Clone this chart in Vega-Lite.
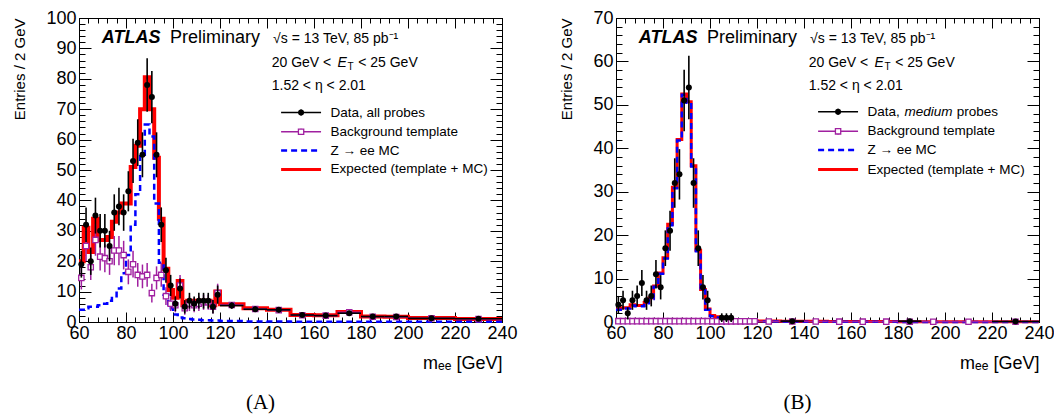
{
"$schema": "https://vega.github.io/schema/vega-lite/v6.json",
"padding": {"left": 12, "top": 8, "right": 5, "bottom": 5},
"spacing": 41,
"background": "white",
"config": {
  "font": "Liberation Sans",
  "view": {"stroke": "black", "strokeWidth": 1},
  "axis": {"domain": false, "grid": false, "tickColor": "black", "tickWidth": 1, "labelFont": "Liberation Sans", "labelFontSize": 18, "labelColor": "black", "labelFlush": false, "labelOverlap": false, "titleFont": "Liberation Sans", "titleFontWeight": "normal", "titleColor": "black"}
},
"datasets": {
  "histA": [
    {"e":60,"exp":20,"mc":4},{"e":62,"exp":31,"mc":4.5},{"e":64,"exp":23,"mc":5},{"e":66,"exp":34,"mc":5},{"e":68,"exp":27,"mc":5.5},
    {"e":70,"exp":27,"mc":6},{"e":72,"exp":28,"mc":7},{"e":74,"exp":33,"mc":8.5},{"e":76,"exp":36,"mc":11},{"e":78,"exp":39,"mc":16},
    {"e":80,"exp":39,"mc":22},{"e":82,"exp":51,"mc":32},{"e":84,"exp":58,"mc":42},{"e":86,"exp":70,"mc":55},{"e":88,"exp":80.5,"mc":65},
    {"e":90,"exp":70,"mc":61},{"e":92,"exp":54,"mc":39},{"e":94,"exp":34,"mc":19.5},{"e":96,"exp":17.5,"mc":9},{"e":98,"exp":10.5,"mc":4.5},
    {"e":100,"exp":8,"mc":2.5},{"e":102,"exp":13.5,"mc":1.5},{"e":104,"exp":5.5,"mc":1.2},{"e":106,"exp":7,"mc":1},{"e":108,"exp":6.5,"mc":0.8},
    {"e":110,"exp":7,"mc":0.7},{"e":112,"exp":7,"mc":0.6},{"e":114,"exp":7,"mc":0.6},{"e":116,"exp":5.5,"mc":0.5},{"e":118,"exp":10,"mc":0.5},
    {"e":120,"exp":5.8,"mc":0.3},{"e":130,"exp":4.5,"mc":0.2},{"e":140,"exp":4,"mc":0.15},{"e":150,"exp":2.3,"mc":0.1},{"e":160,"exp":2.2,"mc":0.1},
    {"e":170,"exp":3.3,"mc":0.1},{"e":180,"exp":1.8,"mc":0.05},{"e":190,"exp":1.7,"mc":0.05},{"e":200,"exp":1.3,"mc":0.05},{"e":220,"exp":1.0,"mc":0.05},
    {"e":240,"exp":1.0,"mc":0.05}
  ],
  "dataA": [
    {"m":61,"lo":60,"hi":62,"v":19,"yl":14.6,"yh":23.4},{"m":63,"lo":62,"hi":64,"v":32,"yl":26.3,"yh":37.7},
    {"m":65,"lo":64,"hi":66,"v":20,"yl":15.5,"yh":24.5},{"m":67,"lo":66,"hi":68,"v":35,"yl":29.1,"yh":40.9},
    {"m":69,"lo":68,"hi":70,"v":30,"yl":24.5,"yh":35.5},{"m":71,"lo":70,"hi":72,"v":30,"yl":24.5,"yh":35.5},
    {"m":73,"lo":72,"hi":74,"v":25,"yl":20,"yh":30},{"m":75,"lo":74,"hi":76,"v":36,"yl":30,"yh":42},
    {"m":77,"lo":76,"hi":78,"v":38,"yl":31.8,"yh":44.2},{"m":79,"lo":78,"hi":80,"v":36,"yl":30,"yh":42},
    {"m":81,"lo":80,"hi":82,"v":43,"yl":36.4,"yh":49.6},{"m":83,"lo":82,"hi":84,"v":53,"yl":45.7,"yh":60.3},
    {"m":85,"lo":84,"hi":86,"v":59,"yl":51.3,"yh":66.7},{"m":87,"lo":86,"hi":88,"v":55,"yl":47.6,"yh":62.4},
    {"m":89,"lo":88,"hi":90,"v":78,"yl":69.2,"yh":86.8},{"m":91,"lo":90,"hi":92,"v":74,"yl":65.4,"yh":82.6},
    {"m":93,"lo":92,"hi":94,"v":55,"yl":47.6,"yh":62.4},{"m":95,"lo":94,"hi":96,"v":32,"yl":26.3,"yh":37.7},
    {"m":97,"lo":96,"hi":98,"v":17,"yl":12.9,"yh":21.1},{"m":99,"lo":98,"hi":100,"v":12,"yl":8.5,"yh":15.5},
    {"m":101,"lo":100,"hi":102,"v":6,"yl":3.6,"yh":8.4},{"m":103,"lo":102,"hi":104,"v":11,"yl":7.7,"yh":14.3},
    {"m":105,"lo":104,"hi":106,"v":5,"yl":2.8,"yh":7.2},{"m":107,"lo":106,"hi":108,"v":7,"yl":4.4,"yh":9.6},
    {"m":109,"lo":108,"hi":110,"v":6,"yl":3.6,"yh":8.4},{"m":111,"lo":110,"hi":112,"v":7,"yl":4.4,"yh":9.6},
    {"m":113,"lo":112,"hi":114,"v":7,"yl":4.4,"yh":9.6},{"m":115,"lo":114,"hi":116,"v":7,"yl":4.4,"yh":9.6},
    {"m":117,"lo":116,"hi":118,"v":5,"yl":2.8,"yh":7.2},{"m":119,"lo":118,"hi":120,"v":9,"yl":6,"yh":12},
    {"m":125,"lo":120,"hi":130,"v":5.4,"yl":4.36,"yh":6.44},{"m":135,"lo":130,"hi":140,"v":4.2,"yl":3.28,"yh":5.12},
    {"m":145,"lo":140,"hi":150,"v":4,"yl":3.11,"yh":4.89},{"m":155,"lo":150,"hi":160,"v":2.3,"yl":1.62,"yh":2.98},
    {"m":165,"lo":160,"hi":170,"v":2.1,"yl":1.45,"yh":2.75},{"m":175,"lo":170,"hi":180,"v":2.9,"yl":2.14,"yh":3.66},
    {"m":185,"lo":180,"hi":190,"v":1.8,"yl":1.2,"yh":2.4},{"m":195,"lo":190,"hi":200,"v":1.8,"yl":1.2,"yh":2.4},
    {"m":210,"lo":200,"hi":220,"v":1.2,"yl":0.85,"yh":1.55},{"m":230,"lo":220,"hi":240,"v":1.05,"yl":0.73,"yh":1.37}
  ],
  "bkgA": [
    {"m":61,"lo":60,"hi":62,"v":14.5,"yl":10.7,"yh":18.3},{"m":63,"lo":62,"hi":64,"v":25,"yl":20,"yh":30},
    {"m":65,"lo":64,"hi":66,"v":18,"yl":13.8,"yh":22.2},{"m":67,"lo":66,"hi":68,"v":27,"yl":21.8,"yh":32.2},
    {"m":69,"lo":68,"hi":70,"v":21.5,"yl":16.9,"yh":26.1},{"m":71,"lo":70,"hi":72,"v":21,"yl":16.4,"yh":25.6},
    {"m":73,"lo":72,"hi":74,"v":20,"yl":15.5,"yh":24.5},{"m":75,"lo":74,"hi":76,"v":23.5,"yl":18.7,"yh":28.3},
    {"m":77,"lo":76,"hi":78,"v":23.5,"yl":18.7,"yh":28.3},{"m":79,"lo":78,"hi":80,"v":22,"yl":17.3,"yh":26.7},
    {"m":81,"lo":80,"hi":82,"v":16.5,"yl":12.4,"yh":20.6},{"m":83,"lo":82,"hi":84,"v":19,"yl":14.6,"yh":23.4},
    {"m":85,"lo":84,"hi":86,"v":15.5,"yl":11.6,"yh":19.4},{"m":87,"lo":86,"hi":88,"v":15,"yl":11.1,"yh":18.9},
    {"m":89,"lo":88,"hi":90,"v":15.5,"yl":11.6,"yh":19.4},{"m":91,"lo":90,"hi":92,"v":9.5,"yl":6.4,"yh":12.6},
    {"m":93,"lo":92,"hi":94,"v":14.5,"yl":10.7,"yh":18.3},{"m":95,"lo":94,"hi":96,"v":15.5,"yl":11.6,"yh":19.4},
    {"m":97,"lo":96,"hi":98,"v":8.5,"yl":5.6,"yh":11.4},{"m":99,"lo":98,"hi":100,"v":6,"yl":3.6,"yh":8.4},
    {"m":101,"lo":100,"hi":102,"v":5.5,"yl":3.2,"yh":7.8},{"m":103,"lo":102,"hi":104,"v":12,"yl":8.5,"yh":15.5},
    {"m":105,"lo":104,"hi":106,"v":4.5,"yl":2.4,"yh":6.6},{"m":107,"lo":106,"hi":108,"v":6,"yl":3.6,"yh":8.4},
    {"m":109,"lo":108,"hi":110,"v":5.5,"yl":3.2,"yh":7.8},{"m":111,"lo":110,"hi":112,"v":6,"yl":3.6,"yh":8.4},
    {"m":113,"lo":112,"hi":114,"v":6.5,"yl":4,"yh":9},{"m":115,"lo":114,"hi":116,"v":6.5,"yl":4,"yh":9},
    {"m":117,"lo":116,"hi":118,"v":5,"yl":2.8,"yh":7.2},{"m":119,"lo":118,"hi":120,"v":9.5,"yl":6.4,"yh":12.6},
    {"m":125,"lo":120,"hi":130,"v":5.6,"yl":5.1,"yh":6.1},{"m":135,"lo":130,"hi":140,"v":4.3,"yl":3.85,"yh":4.75},
    {"m":145,"lo":140,"hi":150,"v":3.9,"yl":3.45,"yh":4.35},{"m":155,"lo":150,"hi":160,"v":2.2,"yl":1.85,"yh":2.55},
    {"m":165,"lo":160,"hi":170,"v":2.1,"yl":1.75,"yh":2.45},{"m":175,"lo":170,"hi":180,"v":3.2,"yl":2.8,"yh":3.6},
    {"m":185,"lo":180,"hi":190,"v":1.75,"yl":1.45,"yh":2.05},{"m":195,"lo":190,"hi":200,"v":1.65,"yl":1.35,"yh":1.95},
    {"m":210,"lo":200,"hi":220,"v":1.25,"yl":1.05,"yh":1.45},{"m":230,"lo":220,"hi":240,"v":0.95,"yl":0.75,"yh":1.15}
  ],
  "histB": [
    {"e":60,"exp":3,"mc":2.8},{"e":62,"exp":3.3,"mc":3.1},{"e":64,"exp":3.3,"mc":3.1},{"e":66,"exp":4,"mc":3.8},{"e":68,"exp":3.8,"mc":3.6},
    {"e":70,"exp":3.8,"mc":3.6},{"e":72,"exp":4.5,"mc":4.3},{"e":74,"exp":5.5,"mc":5.3},{"e":76,"exp":8.3,"mc":8.1},{"e":78,"exp":11.3,"mc":11.1},
    {"e":80,"exp":14.8,"mc":14.6},{"e":82,"exp":22.5,"mc":22.3},{"e":84,"exp":31,"mc":30.8},{"e":86,"exp":42,"mc":41.8},{"e":88,"exp":52.5,"mc":52.3},
    {"e":90,"exp":50.7,"mc":50.5},{"e":92,"exp":36,"mc":35.8},{"e":94,"exp":16.5,"mc":16.3},{"e":96,"exp":7.5,"mc":7.3},{"e":98,"exp":3,"mc":2.8},
    {"e":100,"exp":1.5,"mc":1.3},{"e":102,"exp":1.2,"mc":1.05},{"e":104,"exp":1,"mc":0.85},{"e":106,"exp":0.8,"mc":0.65},{"e":108,"exp":0.6,"mc":0.45},
    {"e":110,"exp":0.5,"mc":0.35},{"e":112,"exp":0.45,"mc":0.3},{"e":114,"exp":0.4,"mc":0.25},{"e":116,"exp":0.35,"mc":0.2},{"e":118,"exp":0.3,"mc":0.18},
    {"e":120,"exp":0.25,"mc":0.12},{"e":130,"exp":0.2,"mc":0.08},{"e":140,"exp":0.15,"mc":0.05},{"e":150,"exp":0.12,"mc":0.04},{"e":160,"exp":0.1,"mc":0.03},
    {"e":170,"exp":0.1,"mc":0.03},{"e":180,"exp":0.08,"mc":0.02},{"e":190,"exp":0.07,"mc":0.02},{"e":200,"exp":0.06,"mc":0.02},{"e":220,"exp":0.05,"mc":0.02},
    {"e":240,"exp":0.05,"mc":0.02}
  ],
  "dataB": [
    {"m":61,"lo":60,"hi":62,"v":4,"yl":2,"yh":6},{"m":63,"lo":62,"hi":64,"v":5,"yl":2.8,"yh":7.2},
    {"m":65,"lo":64,"hi":66,"v":2,"yl":0.6,"yh":3.4},{"m":67,"lo":66,"hi":68,"v":5,"yl":2.8,"yh":7.2},
    {"m":69,"lo":68,"hi":70,"v":6,"yl":3.6,"yh":8.4},{"m":71,"lo":70,"hi":72,"v":9,"yl":6,"yh":12},
    {"m":73,"lo":72,"hi":74,"v":5,"yl":2.8,"yh":7.2},{"m":75,"lo":74,"hi":76,"v":6,"yl":3.6,"yh":8.4},
    {"m":77,"lo":76,"hi":78,"v":11,"yl":7.7,"yh":14.3},{"m":79,"lo":78,"hi":80,"v":8,"yl":5.2,"yh":10.8},
    {"m":81,"lo":80,"hi":82,"v":17,"yl":12.9,"yh":21.1},{"m":83,"lo":82,"hi":84,"v":21,"yl":16.4,"yh":25.6},
    {"m":85,"lo":84,"hi":86,"v":32,"yl":26.3,"yh":37.7},{"m":87,"lo":86,"hi":88,"v":34,"yl":28.2,"yh":39.8},
    {"m":89,"lo":88,"hi":90,"v":51,"yl":43.9,"yh":58.1},{"m":91,"lo":90,"hi":92,"v":54,"yl":46.7,"yh":61.3},
    {"m":93,"lo":92,"hi":94,"v":32,"yl":26.3,"yh":37.7},{"m":95,"lo":94,"hi":96,"v":17,"yl":12.9,"yh":21.1},
    {"m":97,"lo":96,"hi":98,"v":8,"yl":5.2,"yh":10.8},{"m":99,"lo":98,"hi":100,"v":5,"yl":2.8,"yh":7.2},
    {"m":105,"lo":104,"hi":106,"v":1,"yl":0,"yh":2},{"m":107,"lo":106,"hi":108,"v":1,"yl":0,"yh":2},
    {"m":109,"lo":108,"hi":110,"v":1,"yl":0,"yh":2},{"m":135,"lo":130,"hi":140,"v":0.2,"yl":0,"yh":0.4},
    {"m":185,"lo":180,"hi":190,"v":0.2,"yl":0,"yh":0.4},{"m":230,"lo":220,"hi":240,"v":0.1,"yl":0,"yh":0.2}
  ],
  "bkgB": [
    {"m":61,"lo":60,"hi":62,"v":0.2,"yl":0.05,"yh":0.35},{"m":63,"lo":62,"hi":64,"v":0.2,"yl":0.05,"yh":0.35},
    {"m":65,"lo":64,"hi":66,"v":0.2,"yl":0.05,"yh":0.35},{"m":67,"lo":66,"hi":68,"v":0.2,"yl":0.05,"yh":0.35},
    {"m":69,"lo":68,"hi":70,"v":0.2,"yl":0.05,"yh":0.35},{"m":71,"lo":70,"hi":72,"v":0.2,"yl":0.05,"yh":0.35},
    {"m":73,"lo":72,"hi":74,"v":0.2,"yl":0.05,"yh":0.35},{"m":75,"lo":74,"hi":76,"v":0.2,"yl":0.05,"yh":0.35},
    {"m":77,"lo":76,"hi":78,"v":0.2,"yl":0.05,"yh":0.35},{"m":79,"lo":78,"hi":80,"v":0.2,"yl":0.05,"yh":0.35},
    {"m":81,"lo":80,"hi":82,"v":0.2,"yl":0.05,"yh":0.35},{"m":83,"lo":82,"hi":84,"v":0.2,"yl":0.05,"yh":0.35},
    {"m":85,"lo":84,"hi":86,"v":0.2,"yl":0.05,"yh":0.35},{"m":87,"lo":86,"hi":88,"v":0.2,"yl":0.05,"yh":0.35},
    {"m":89,"lo":88,"hi":90,"v":0.2,"yl":0.05,"yh":0.35},{"m":91,"lo":90,"hi":92,"v":0.2,"yl":0.05,"yh":0.35},
    {"m":93,"lo":92,"hi":94,"v":0.2,"yl":0.05,"yh":0.35},{"m":95,"lo":94,"hi":96,"v":0.2,"yl":0.05,"yh":0.35},
    {"m":97,"lo":96,"hi":98,"v":0.2,"yl":0.05,"yh":0.35},{"m":99,"lo":98,"hi":100,"v":0.2,"yl":0.05,"yh":0.35},
    {"m":101,"lo":100,"hi":102,"v":0.15,"yl":0.05,"yh":0.3},{"m":103,"lo":102,"hi":104,"v":0.15,"yl":0.05,"yh":0.3},
    {"m":105,"lo":104,"hi":106,"v":0.15,"yl":0.05,"yh":0.3},{"m":107,"lo":106,"hi":108,"v":0.15,"yl":0.05,"yh":0.3},
    {"m":109,"lo":108,"hi":110,"v":0.15,"yl":0.05,"yh":0.3},{"m":111,"lo":110,"hi":112,"v":0.15,"yl":0.05,"yh":0.3},
    {"m":113,"lo":112,"hi":114,"v":0.15,"yl":0.05,"yh":0.3},{"m":115,"lo":114,"hi":116,"v":0.15,"yl":0.05,"yh":0.3},
    {"m":117,"lo":116,"hi":118,"v":0.15,"yl":0.05,"yh":0.3},{"m":119,"lo":118,"hi":120,"v":0.15,"yl":0.05,"yh":0.3},
    {"m":125,"lo":120,"hi":130,"v":0.12,"yl":0.06,"yh":0.18},{"m":135,"lo":130,"hi":140,"v":0.1,"yl":0.05,"yh":0.15},
    {"m":145,"lo":140,"hi":150,"v":0.1,"yl":0.05,"yh":0.15},{"m":155,"lo":150,"hi":160,"v":0.08,"yl":0.04,"yh":0.12},
    {"m":165,"lo":160,"hi":170,"v":0.08,"yl":0.04,"yh":0.12},{"m":175,"lo":170,"hi":180,"v":0.08,"yl":0.04,"yh":0.12},
    {"m":185,"lo":180,"hi":190,"v":0.06,"yl":0.03,"yh":0.09},{"m":195,"lo":190,"hi":200,"v":0.06,"yl":0.03,"yh":0.09},
    {"m":210,"lo":200,"hi":220,"v":0.05,"yl":0.03,"yh":0.07},{"m":230,"lo":220,"hi":240,"v":0.05,"yl":0.03,"yh":0.07}
  ]
},
"hconcat": [
 {
  "width": 423, "height": 304,
  "title": {"text": "(A)", "orient": "bottom", "anchor": "middle", "font": "Liberation Serif", "fontSize": 21, "fontWeight": "normal", "color": "black", "dx": -30, "offset": 20},
  "resolve": {"axis": {"x": "independent", "y": "independent"}},
  "layer": [
   {"data": {"name": "histA"}, "mark": {"type": "line", "interpolate": "step-after", "color": "#ff0000", "strokeWidth": 4},
    "encoding": {
     "x": {"field": "e", "type": "quantitative", "scale": {"domain": [60, 240], "nice": false, "zero": false},
       "axis": {"orient": "bottom", "values": [60,80,100,120,140,160,180,200,220,240], "tickSize": -10, "labelPadding": 12, "title": "mₑₑ [GeV]", "titleFontSize": 18, "titleAnchor": "end", "titlePadding": 12}},
     "y": {"field": "exp", "type": "quantitative", "scale": {"domain": [0, 100], "nice": false, "zero": false},
       "axis": {"orient": "left", "values": [0,10,20,30,40,50,60,70,80,90,100], "tickSize": -12, "labelPadding": 15, "title": "Entries / 2 GeV", "titleFontSize": 15, "titleAnchor": "end", "titlePadding": 18}}}},
   {"data": {"name": "histA"}, "mark": {"type": "line", "interpolate": "step-after", "color": "#0000ff", "strokeWidth": 2.5, "strokeDash": [6, 4]},
    "encoding": {
     "x": {"field": "e", "type": "quantitative", "axis": {"orient": "top", "values": [60,80,100,120,140,160,180,200,220,240], "tickSize": -10, "labels": false, "title": null}},
     "y": {"field": "mc", "type": "quantitative", "axis": {"orient": "right", "values": [0,10,20,30,40,50,60,70,80,90,100], "tickSize": -12, "labels": false, "title": null}}}},
   {"data": {"name": "bkgA"}, "mark": {"type": "rule", "color": "#a020a0", "strokeWidth": 1.5},
    "encoding": {
     "x": {"field": "lo", "type": "quantitative", "axis": {"orient": "bottom", "values": [60,64,68,72,76,80,84,88,92,96,100,104,108,112,116,120,124,128,132,136,140,144,148,152,156,160,164,168,172,176,180,184,188,192,196,200,204,208,212,216,220,224,228,232,236,240], "tickSize": -5, "labels": false, "title": null}},
     "x2": {"field": "hi"},
     "y": {"field": "v", "type": "quantitative", "axis": {"orient": "left", "values": [0,2,4,6,8,10,12,14,16,18,20,22,24,26,28,30,32,34,36,38,40,42,44,46,48,50,52,54,56,58,60,62,64,66,68,70,72,74,76,78,80,82,84,86,88,90,92,94,96,98,100], "tickSize": -6, "labels": false, "title": null}}}},
   {"data": {"name": "bkgA"}, "mark": {"type": "rule", "color": "#a020a0", "strokeWidth": 1.5},
    "encoding": {
     "x": {"field": "m", "type": "quantitative", "axis": {"orient": "top", "values": [60,64,68,72,76,80,84,88,92,96,100,104,108,112,116,120,124,128,132,136,140,144,148,152,156,160,164,168,172,176,180,184,188,192,196,200,204,208,212,216,220,224,228,232,236,240], "tickSize": -5, "labels": false, "title": null}},
     "y": {"field": "yl", "type": "quantitative", "axis": {"orient": "right", "values": [0,2,4,6,8,10,12,14,16,18,20,22,24,26,28,30,32,34,36,38,40,42,44,46,48,50,52,54,56,58,60,62,64,66,68,70,72,74,76,78,80,82,84,86,88,90,92,94,96,98,100], "tickSize": -6, "labels": false, "title": null}},
     "y2": {"field": "yh"}}},
   {"data": {"name": "bkgA"}, "mark": {"type": "point", "shape": "square", "filled": true, "fill": "white", "stroke": "#a020a0", "strokeWidth": 1.3, "size": 28, "opacity": 1},
    "encoding": {"x": {"field": "m", "type": "quantitative", "axis": null}, "y": {"field": "v", "type": "quantitative", "axis": null}}},
   {"data": {"name": "dataA"}, "mark": {"type": "rule", "color": "black", "strokeWidth": 1.6},
    "encoding": {"x": {"field": "lo", "type": "quantitative", "axis": null}, "x2": {"field": "hi"}, "y": {"field": "v", "type": "quantitative", "axis": null}}},
   {"data": {"name": "dataA"}, "mark": {"type": "rule", "color": "black", "strokeWidth": 1.6},
    "encoding": {"x": {"field": "m", "type": "quantitative", "axis": null}, "y": {"field": "yl", "type": "quantitative", "axis": null}, "y2": {"field": "yh"}}},
   {"data": {"name": "dataA"}, "mark": {"type": "circle", "color": "black", "size": 36, "opacity": 1},
    "encoding": {"x": {"field": "m", "type": "quantitative", "axis": null}, "y": {"field": "v", "type": "quantitative", "axis": null}}},
   {"data": {"values": [{}]}, "mark": {"type": "text", "text": "ATLAS", "fontSize": 18, "fontWeight": "bold", "fontStyle": "italic", "align": "left", "baseline": "middle", "color": "black"},
    "encoding": {"x": {"datum": 69.7, "axis": null}, "y": {"datum": 93.3, "axis": null}}},
   {"data": {"values": [{}]}, "mark": {"type": "text", "text": "Preliminary", "fontSize": 18, "align": "left", "baseline": "middle", "color": "black"},
    "encoding": {"x": {"datum": 98.7, "axis": null}, "y": {"datum": 93.3, "axis": null}}},
   {"data": {"values": [{}]}, "mark": {"type": "text", "text": "√s = 13 TeV, 85 pb⁻¹", "fontSize": 14, "align": "left", "baseline": "middle", "color": "black"},
    "encoding": {"x": {"datum": 142.6, "axis": null}, "y": {"datum": 93.0, "axis": null}}},
   {"data": {"values": [{}]}, "mark": {"type": "text", "text": "20 GeV <", "fontSize": 14, "align": "left", "baseline": "middle", "color": "black"},
    "encoding": {"x": {"datum": 142, "axis": null}, "y": {"datum": 85.2, "axis": null}}},
   {"data": {"values": [{}]}, "mark": {"type": "text", "text": "E", "fontSize": 14, "fontStyle": "italic", "align": "left", "baseline": "middle", "color": "black"},
    "encoding": {"x": {"datum": 170, "axis": null}, "y": {"datum": 85.2, "axis": null}}},
   {"data": {"values": [{}]}, "mark": {"type": "text", "text": "T", "fontSize": 10, "align": "left", "baseline": "middle", "dy": 4, "color": "black"},
    "encoding": {"x": {"datum": 174.3, "axis": null}, "y": {"datum": 85.2, "axis": null}}},
   {"data": {"values": [{}]}, "mark": {"type": "text", "text": "< 25 GeV", "fontSize": 14, "align": "left", "baseline": "middle", "color": "black"},
    "encoding": {"x": {"datum": 178.8, "axis": null}, "y": {"datum": 85.2, "axis": null}}},
   {"data": {"values": [{}]}, "mark": {"type": "text", "text": "1.52 < η < 2.01", "fontSize": 14, "align": "left", "baseline": "middle", "color": "black"},
    "encoding": {"x": {"datum": 142, "axis": null}, "y": {"datum": 77.5, "axis": null}}},
   {"data": {"values": [{}]}, "mark": {"type": "rule", "color": "black", "strokeWidth": 1.6},
    "encoding": {"x": {"datum": 146, "axis": null}, "x2": {"datum": 163}, "y": {"datum": 68.9, "axis": null}}},
   {"data": {"values": [{}]}, "mark": {"type": "rule", "color": "black", "strokeWidth": 1.6},
    "encoding": {"x": {"datum": 154.5, "axis": null}, "y": {"datum": 67.9, "axis": null}, "y2": {"datum": 69.9}}},
   {"data": {"values": [{}]}, "mark": {"type": "circle", "color": "black", "size": 36, "opacity": 1},
    "encoding": {"x": {"datum": 154.5, "axis": null}, "y": {"datum": 68.9, "axis": null}}},
   {"data": {"values": [{}]}, "mark": {"type": "rule", "color": "#a020a0", "strokeWidth": 1.5},
    "encoding": {"x": {"datum": 146, "axis": null}, "x2": {"datum": 163}, "y": {"datum": 62.6, "axis": null}}},
   {"data": {"values": [{}]}, "mark": {"type": "rule", "color": "#a020a0", "strokeWidth": 1.5},
    "encoding": {"x": {"datum": 154.5, "axis": null}, "y": {"datum": 61.6, "axis": null}, "y2": {"datum": 63.6}}},
   {"data": {"values": [{}]}, "mark": {"type": "point", "shape": "square", "filled": true, "fill": "white", "stroke": "#a020a0", "strokeWidth": 1.3, "size": 28, "opacity": 1},
    "encoding": {"x": {"datum": 154.5, "axis": null}, "y": {"datum": 62.6, "axis": null}}},
   {"data": {"values": [{}]}, "mark": {"type": "rule", "color": "#0000ff", "strokeWidth": 2.5, "strokeDash": [6, 4]},
    "encoding": {"x": {"datum": 146, "axis": null}, "x2": {"datum": 163}, "y": {"datum": 56.4, "axis": null}}},
   {"data": {"values": [{}]}, "mark": {"type": "rule", "color": "#ff0000", "strokeWidth": 3},
    "encoding": {"x": {"datum": 146, "axis": null}, "x2": {"datum": 163}, "y": {"datum": 50.2, "axis": null}}},
   {"data": {"values": [{}]}, "mark": {"type": "text", "text": "Data, all probes", "fontSize": 13.5, "align": "left", "baseline": "middle", "color": "black"},
    "encoding": {"x": {"datum": 167, "axis": null}, "y": {"datum": 68.9, "axis": null}}},
   {"data": {"values": [{}]}, "mark": {"type": "text", "text": "Background template", "fontSize": 13.5, "align": "left", "baseline": "middle", "color": "black"},
    "encoding": {"x": {"datum": 167, "axis": null}, "y": {"datum": 62.6, "axis": null}}},
   {"data": {"values": [{}]}, "mark": {"type": "text", "text": "Z → ee MC", "fontSize": 13.5, "align": "left", "baseline": "middle", "color": "black"},
    "encoding": {"x": {"datum": 167, "axis": null}, "y": {"datum": 56.4, "axis": null}}},
   {"data": {"values": [{}]}, "mark": {"type": "text", "text": "Expected (template + MC)", "fontSize": 13.5, "align": "left", "baseline": "middle", "color": "black"},
    "encoding": {"x": {"datum": 167, "axis": null}, "y": {"datum": 50.2, "axis": null}}}
  ]
 },
 {
  "width": 423, "height": 304,
  "title": {"text": "(B)", "orient": "bottom", "anchor": "middle", "font": "Liberation Serif", "fontSize": 21, "fontWeight": "normal", "color": "black", "dx": -30, "offset": 20},
  "resolve": {"axis": {"x": "independent", "y": "independent"}},
  "layer": [
   {"data": {"name": "histB"}, "mark": {"type": "line", "interpolate": "step-after", "color": "#ff0000", "strokeWidth": 3},
    "encoding": {
     "x": {"field": "e", "type": "quantitative", "scale": {"domain": [60, 240], "nice": false, "zero": false},
       "axis": {"orient": "bottom", "values": [60,80,100,120,140,160,180,200,220,240], "tickSize": -10, "labelPadding": 12, "title": "mₑₑ [GeV]", "titleFontSize": 18, "titleAnchor": "end", "titlePadding": 12}},
     "y": {"field": "exp", "type": "quantitative", "scale": {"domain": [0, 70], "nice": false, "zero": false},
       "axis": {"orient": "left", "values": [0,10,20,30,40,50,60,70], "tickSize": -12, "labelPadding": 15, "title": "Entries / 2 GeV", "titleFontSize": 15, "titleAnchor": "end", "titlePadding": 18}}}},
   {"data": {"name": "histB"}, "mark": {"type": "line", "interpolate": "step-after", "color": "#0000ff", "strokeWidth": 2.5, "strokeDash": [6, 4]},
    "encoding": {
     "x": {"field": "e", "type": "quantitative", "axis": {"orient": "top", "values": [60,80,100,120,140,160,180,200,220,240], "tickSize": -10, "labels": false, "title": null}},
     "y": {"field": "mc", "type": "quantitative", "axis": {"orient": "right", "values": [0,10,20,30,40,50,60,70], "tickSize": -12, "labels": false, "title": null}}}},
   {"data": {"name": "bkgB"}, "mark": {"type": "rule", "color": "#a020a0", "strokeWidth": 1.5},
    "encoding": {
     "x": {"field": "lo", "type": "quantitative", "axis": {"orient": "bottom", "values": [60,64,68,72,76,80,84,88,92,96,100,104,108,112,116,120,124,128,132,136,140,144,148,152,156,160,164,168,172,176,180,184,188,192,196,200,204,208,212,216,220,224,228,232,236,240], "tickSize": -5, "labels": false, "title": null}},
     "x2": {"field": "hi"},
     "y": {"field": "v", "type": "quantitative", "axis": {"orient": "left", "values": [0,2,4,6,8,10,12,14,16,18,20,22,24,26,28,30,32,34,36,38,40,42,44,46,48,50,52,54,56,58,60,62,64,66,68,70], "tickSize": -6, "labels": false, "title": null}}}},
   {"data": {"name": "bkgB"}, "mark": {"type": "rule", "color": "#a020a0", "strokeWidth": 1.5},
    "encoding": {
     "x": {"field": "m", "type": "quantitative", "axis": {"orient": "top", "values": [60,64,68,72,76,80,84,88,92,96,100,104,108,112,116,120,124,128,132,136,140,144,148,152,156,160,164,168,172,176,180,184,188,192,196,200,204,208,212,216,220,224,228,232,236,240], "tickSize": -5, "labels": false, "title": null}},
     "y": {"field": "yl", "type": "quantitative", "axis": {"orient": "right", "values": [0,2,4,6,8,10,12,14,16,18,20,22,24,26,28,30,32,34,36,38,40,42,44,46,48,50,52,54,56,58,60,62,64,66,68,70], "tickSize": -6, "labels": false, "title": null}},
     "y2": {"field": "yh"}}},
   {"data": {"name": "bkgB"}, "mark": {"type": "point", "shape": "square", "filled": true, "fill": "white", "stroke": "#a020a0", "strokeWidth": 1.3, "size": 28, "opacity": 1},
    "encoding": {"x": {"field": "m", "type": "quantitative", "axis": null}, "y": {"field": "v", "type": "quantitative", "axis": null}}},
   {"data": {"name": "dataB"}, "mark": {"type": "rule", "color": "black", "strokeWidth": 1.6},
    "encoding": {"x": {"field": "lo", "type": "quantitative", "axis": null}, "x2": {"field": "hi"}, "y": {"field": "v", "type": "quantitative", "axis": null}}},
   {"data": {"name": "dataB"}, "mark": {"type": "rule", "color": "black", "strokeWidth": 1.6},
    "encoding": {"x": {"field": "m", "type": "quantitative", "axis": null}, "y": {"field": "yl", "type": "quantitative", "axis": null}, "y2": {"field": "yh"}}},
   {"data": {"name": "dataB"}, "mark": {"type": "circle", "color": "black", "size": 36, "opacity": 1},
    "encoding": {"x": {"field": "m", "type": "quantitative", "axis": null}, "y": {"field": "v", "type": "quantitative", "axis": null}}},
   {"data": {"values": [{}]}, "mark": {"type": "text", "text": "ATLAS", "fontSize": 18, "fontWeight": "bold", "fontStyle": "italic", "align": "left", "baseline": "middle", "color": "black"},
    "encoding": {"x": {"datum": 69.7, "axis": null}, "y": {"datum": 65.4, "axis": null}}},
   {"data": {"values": [{}]}, "mark": {"type": "text", "text": "Preliminary", "fontSize": 18, "align": "left", "baseline": "middle", "color": "black"},
    "encoding": {"x": {"datum": 98.7, "axis": null}, "y": {"datum": 65.4, "axis": null}}},
   {"data": {"values": [{}]}, "mark": {"type": "text", "text": "√s = 13 TeV, 85 pb⁻¹", "fontSize": 14, "align": "left", "baseline": "middle", "color": "black"},
    "encoding": {"x": {"datum": 142.6, "axis": null}, "y": {"datum": 65.2, "axis": null}}},
   {"data": {"values": [{}]}, "mark": {"type": "text", "text": "20 GeV <", "fontSize": 14, "align": "left", "baseline": "middle", "color": "black"},
    "encoding": {"x": {"datum": 142, "axis": null}, "y": {"datum": 59.7, "axis": null}}},
   {"data": {"values": [{}]}, "mark": {"type": "text", "text": "E", "fontSize": 14, "fontStyle": "italic", "align": "left", "baseline": "middle", "color": "black"},
    "encoding": {"x": {"datum": 170, "axis": null}, "y": {"datum": 59.7, "axis": null}}},
   {"data": {"values": [{}]}, "mark": {"type": "text", "text": "T", "fontSize": 10, "align": "left", "baseline": "middle", "dy": 4, "color": "black"},
    "encoding": {"x": {"datum": 174.3, "axis": null}, "y": {"datum": 59.7, "axis": null}}},
   {"data": {"values": [{}]}, "mark": {"type": "text", "text": "< 25 GeV", "fontSize": 14, "align": "left", "baseline": "middle", "color": "black"},
    "encoding": {"x": {"datum": 178.8, "axis": null}, "y": {"datum": 59.7, "axis": null}}},
   {"data": {"values": [{}]}, "mark": {"type": "text", "text": "1.52 < η < 2.01", "fontSize": 14, "align": "left", "baseline": "middle", "color": "black"},
    "encoding": {"x": {"datum": 142, "axis": null}, "y": {"datum": 54.4, "axis": null}}},
   {"data": {"values": [{}]}, "mark": {"type": "rule", "color": "black", "strokeWidth": 1.6},
    "encoding": {"x": {"datum": 146, "axis": null}, "x2": {"datum": 163}, "y": {"datum": 48.4, "axis": null}}},
   {"data": {"values": [{}]}, "mark": {"type": "rule", "color": "black", "strokeWidth": 1.6},
    "encoding": {"x": {"datum": 154.5, "axis": null}, "y": {"datum": 47.7, "axis": null}, "y2": {"datum": 49.1}}},
   {"data": {"values": [{}]}, "mark": {"type": "circle", "color": "black", "size": 36, "opacity": 1},
    "encoding": {"x": {"datum": 154.5, "axis": null}, "y": {"datum": 48.4, "axis": null}}},
   {"data": {"values": [{}]}, "mark": {"type": "rule", "color": "#a020a0", "strokeWidth": 1.5},
    "encoding": {"x": {"datum": 146, "axis": null}, "x2": {"datum": 163}, "y": {"datum": 43.9, "axis": null}}},
   {"data": {"values": [{}]}, "mark": {"type": "rule", "color": "#a020a0", "strokeWidth": 1.5},
    "encoding": {"x": {"datum": 154.5, "axis": null}, "y": {"datum": 43.2, "axis": null}, "y2": {"datum": 44.6}}},
   {"data": {"values": [{}]}, "mark": {"type": "point", "shape": "square", "filled": true, "fill": "white", "stroke": "#a020a0", "strokeWidth": 1.3, "size": 28, "opacity": 1},
    "encoding": {"x": {"datum": 154.5, "axis": null}, "y": {"datum": 43.9, "axis": null}}},
   {"data": {"values": [{}]}, "mark": {"type": "rule", "color": "#0000ff", "strokeWidth": 2.5, "strokeDash": [6, 4]},
    "encoding": {"x": {"datum": 146, "axis": null}, "x2": {"datum": 163}, "y": {"datum": 39.6, "axis": null}}},
   {"data": {"values": [{}]}, "mark": {"type": "rule", "color": "#ff0000", "strokeWidth": 3},
    "encoding": {"x": {"datum": 146, "axis": null}, "x2": {"datum": 163}, "y": {"datum": 35.1, "axis": null}}},
   {"data": {"values": [{}]}, "mark": {"type": "text", "text": "Data,", "fontSize": 13.5, "align": "left", "baseline": "middle", "color": "black"},
    "encoding": {"x": {"datum": 167, "axis": null}, "y": {"datum": 48.4, "axis": null}}},
   {"data": {"values": [{}]}, "mark": {"type": "text", "text": "medium", "fontSize": 13.5, "fontStyle": "italic", "align": "left", "baseline": "middle", "color": "black"},
    "encoding": {"x": {"datum": 182.8, "axis": null}, "y": {"datum": 48.4, "axis": null}}},
   {"data": {"values": [{}]}, "mark": {"type": "text", "text": "probes", "fontSize": 13.5, "align": "left", "baseline": "middle", "color": "black"},
    "encoding": {"x": {"datum": 205, "axis": null}, "y": {"datum": 48.4, "axis": null}}},
   {"data": {"values": [{}]}, "mark": {"type": "text", "text": "Background template", "fontSize": 13.5, "align": "left", "baseline": "middle", "color": "black"},
    "encoding": {"x": {"datum": 167, "axis": null}, "y": {"datum": 43.9, "axis": null}}},
   {"data": {"values": [{}]}, "mark": {"type": "text", "text": "Z → ee MC", "fontSize": 13.5, "align": "left", "baseline": "middle", "color": "black"},
    "encoding": {"x": {"datum": 167, "axis": null}, "y": {"datum": 39.6, "axis": null}}},
   {"data": {"values": [{}]}, "mark": {"type": "text", "text": "Expected (template + MC)", "fontSize": 13.5, "align": "left", "baseline": "middle", "color": "black"},
    "encoding": {"x": {"datum": 167, "axis": null}, "y": {"datum": 35.1, "axis": null}}}
  ]
 }
]
}
